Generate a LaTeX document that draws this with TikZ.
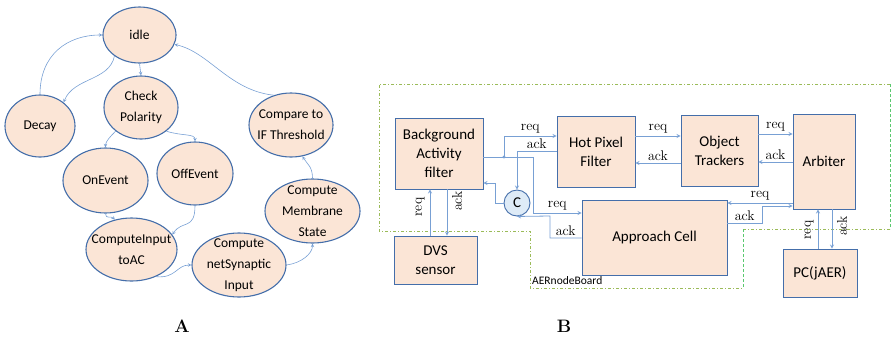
\documentclass[tikz,border=0pt]{standalone}
\usepackage{fontspec}
\newfontfamily\calibri{Carlito}
\usetikzlibrary{shapes.geometric}
\definecolor{peach}{RGB}{251,229,214}
\definecolor{rimblue}{RGB}{68,110,170}
\definecolor{wireblue}{RGB}{120,160,212}
\definecolor{cfill}{RGB}{222,235,247}
\definecolor{boardgreen}{RGB}{155,187,89}
\definecolor{dashgreen}{RGB}{90,200,110}
\tikzset{
	state/.style={ellipse, draw=rimblue, line width=1.1pt, fill=peach, inner sep=-10pt, align=center, font=\calibri\fontsize{13.5}{21}\selectfont},
	block/.style={rectangle, draw=rimblue, line width=0.9pt, fill=peach, align=center, font=\calibri\fontsize{15}{19}\selectfont},
	flow/.style={draw=wireblue, line width=0.6pt},
	sig/.style={draw=wireblue, line width=0.8pt},
	lbl/.style={font=\fontsize{14}{14}\selectfont, inner sep=2pt},
	board/.style={draw=boardgreen, line width=0.8pt, dash pattern=on 3pt off 2pt on 1pt off 2pt},
	boardside/.style={draw=dashgreen, line width=0.9pt, dash pattern=on 3pt off 2pt},
}
\begin{document}
\begin{tikzpicture}[>=stealth, x=1pt, y=-1pt]
	\useasboundingbox (0,0) rectangle (894,341);

	\node (idle) [state, minimum width=73pt, minimum height=56pt] at (139.5,35) {idle};
	\node (chk) [state, minimum width=74pt, minimum height=63pt] at (141,107.5) {Check\\Polarity};
	\node (decay) [state, minimum width=70pt, minimum height=62pt] at (40,126) {Decay};
	\node (cmp) [state, minimum width=84pt, minimum height=64pt] at (291,125) {Compare to\\IF Threshold};
	\node (onev) [state, minimum width=85pt, minimum height=65pt] at (105.5,180.5) {OnEvent};
	\node (offev) [state, minimum width=76pt, minimum height=63pt] at (195,173.5) {OffEvent};
	\node (cin) [state, minimum width=91pt, minimum height=63pt] at (131.5,249.5) {ComputeInput\\toAC};
	\node (nsyn) [state, minimum width=94pt, minimum height=64pt] at (239,265) {Compute\\netSynaptic\\Input};
	\node (memb) [state, minimum width=95pt, minimum height=64pt] at (312.5,211) {Compute\\Membrane\\State};

	\draw[flow,->] (decay.north) .. controls +(0,-40) and +(-35,0) .. (idle.west);
	\draw[flow,->] (idle.220) .. controls +(-5,25) and +(10,-25) .. (decay.45);
	\draw[flow,->] (idle.south) -- (chk.north);
	\draw[flow,->] (chk.223) .. controls +(-5,5) and +(0,-6) .. (onev.north);
	\draw[flow,->] (chk.317) .. controls +(15,5) and +(0,-8) .. (offev.north);
	\draw[flow,->] (onev.south) .. controls +(0,6) and +(-4,-4) .. (cin.119);
	\draw[flow,->] (offev.south) .. controls +(0,25) and +(10,-15) .. (cin.20);
	\draw[flow,->] (cin.312) .. controls +(20,2) and +(-15,0) .. (nsyn.west);
	\draw[flow,->] (nsyn.east) .. controls +(15,-2) and +(0,10) .. (memb.south);
	\draw[flow,->] (memb.north) .. controls +(0,-12) and +(5,8) .. (cmp.290);
	\draw[flow,->] (cmp.120) .. controls +(-45,-5) and +(35,8) .. (idle.345);

	\draw[board] (890,84) -- (379,84) -- (379,231) -- (530,231) -- (530,288) -- (743,288);
	\draw[board] (743,229) -- (890,229);
	\draw[boardside] (890,84) -- (890,229);
	\draw[boardside] (743,229) -- (743,288);
	\node (aer) [anchor=west, inner sep=0pt, font=\calibri\fontsize{11.5}{12}\selectfont] at (532,281) {AERnodeBoard};

	\node (ba) [block, minimum width=88pt, minimum height=71pt] at (439,153.5) {Background\\Activity\\filter};
	\node (hp) [block, minimum width=78pt, minimum height=71pt] at (596,151.5) {Hot Pixel\\Filter};
	\node (ot) [block, minimum width=77pt, minimum height=71pt] at (719.5,150.5) {Object\\Trackers};
	\node (arb) [block, minimum width=62pt, minimum height=95pt] at (824,161.5) {Arbiter};
	\node (ac) [block, minimum width=145pt, minimum height=75pt] at (654.5,237.5) {Approach Cell};
	\node (dvs) [block, minimum width=83pt, minimum height=48pt] at (435.5,260) {DVS\\sensor};
	\node (pc) [block, minimum width=74pt, minimum height=48pt] at (820,273) {PC(jAER)};
	\node (cc) [circle, draw=rimblue, line width=0.9pt, fill=cfill, minimum size=26pt, inner sep=0pt, font=\calibri\fontsize{15}{15}\selectfont] at (517,203) {C};

	\coordinate (j) at (504,157);
	\coordinate (k) at (533,157);
	\coordinate (m) at (495,203);
	\coordinate (n) at (550,216);
	\coordinate (p) at (762,206);

	\draw[sig] (ba.east |- j) -- (k);
	\fill[wireblue] (j) circle (1.7pt);
	\draw[sig,->] (j) |- (hp.west |- 0,136) node (rq1) [lbl, above, pos=0.75] {req};
	\draw[sig,->] (k) |- (ac.west |- 0,213) node (rq2) [lbl, above, pos=0.75] {req};
	\draw[sig,->] (hp.west |- 0,151) -| (cc.north) node (ak1) [lbl, above, pos=0.25] {ack};
	\draw[sig,->] (cc.west) -- (m) |- (ba.east |- 0,183);
	\draw[sig,->] (ac.west |- 0,238) -| (n) node (ak2) [lbl, above, pos=0.25] {ack} -- (cc.south);

	\draw[sig,->] (hp.east |- 0,136) -- (ot.west |- 0,136) node (rq3) [lbl, above, midway] {req};
	\draw[sig,->] (ot.west |- 0,163) -- (hp.east |- 0,163) node (ak3) [lbl, above, midway] {ack};
	\draw[sig,->] (ot.east |- 0,134) -- (arb.west |- 0,134) node (rq4) [lbl, above, midway] {req};
	\draw[sig,->] (arb.west |- 0,162) -- (ot.east |- 0,162) node (ak4) [lbl, above, midway] {ack};
	\draw[sig,->] (arb.west |- 0,203) -- (ac.east |- 0,203) node (rq5) [lbl, above, midway] {req};
	\draw[sig,->] (ac.east |- 0,223) -| (p) node (ak5) [lbl, above, pos=0.25] {ack} -- (arb.west |- p);

	\draw[sig,->] (dvs.north -| 430,0) -- (ba.south -| 430,0);
	\draw[sig,->] (ba.south -| 447,0) -- (dvs.north -| 447,0);
	\node (rq6) [lbl, rotate=90] at (420,207) {req};
	\node (ak6) [lbl, rotate=90] at (457,201) {ack};
	\draw[sig,->] (pc.north -| 818,0) -- (arb.south -| 818,0);
	\draw[sig,->] (arb.south -| 832,0) -- (pc.north -| 832,0);
	\node (rq7) [lbl, rotate=90] at (809,230) {req};
	\node (ak7) [lbl, rotate=90] at (842,226) {ack};

	\node (capA) [font=\bfseries\fontsize{18}{18}\selectfont] at (182,326) {A};
	\node (capB) [font=\bfseries\fontsize{18}{18}\selectfont] at (564,326) {B};
\end{tikzpicture}
\end{document}
